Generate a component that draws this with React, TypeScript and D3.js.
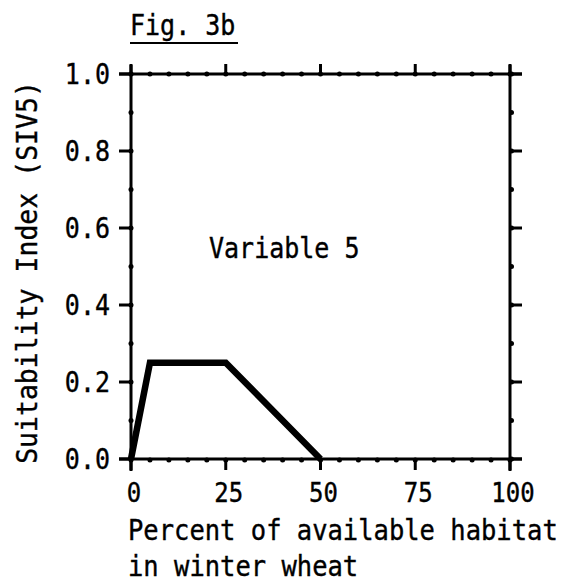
import React from "react";
import * as d3 from "d3";

const titleText = "Fig. 3b";
const panelLabel = "Variable 5";
const yAxisTitle = "Suitability Index (SIV5)";
const xAxisTitleLines = ["Percent of available habitat", "in winter wheat"];

const xMajorTicks = [0, 25, 50, 75, 100];
const xTickLabels = ["0", "25", "50", "75", "100"];
const yMajorTicks = [0, 0.2, 0.4, 0.6, 0.8, 1.0];
const yTickLabels = ["0.0", "0.2", "0.4", "0.6", "0.8", "1.0"];

const curveX = [0, 5, 25, 50];
const curveY = [0, 0.25, 0.25, 0];

const FONT = "'DejaVu Sans Mono', 'Liberation Mono', monospace";
const ink = "#000";

function Txt(props: {
  x: number;
  y: number;
  size: number;
  anchor?: string;
  rotate?: number;
  children: React.ReactNode;
}) {
  const { x, y, size, anchor = "start", rotate = 0, children } = props;
  return (
    <text
      transform={`translate(${x},${y}) rotate(${rotate}) scale(1,1.1)`}
      textAnchor={anchor}
      fontFamily={FONT}
      fontSize={size}
      fill={ink}
      stroke={ink}
      strokeWidth={0.35}
    >
      {children}
    </text>
  );
}

export default function App() {
  const x = d3.scaleLinear().domain([0, 100]).range([131, 510]);
  const y = d3.scaleLinear().domain([0, 1]).range([459, 74]);
  const xMinor = x.ticks(20);
  const yMinor = y.ticks(10);
  const line = d3
    .line<number>()
    .x((_, i) => x(curveX[i]))
    .y((d) => y(d));
  const left = x(0), right = x(100), top = y(1), bottom = y(0);

  return (
    <svg
      width={570}
      height={582}
      style={{ position: "absolute", left: 0, top: 0, display: "block", background: "#fff" }}
    >
      {/* title */}
      <Txt x={130} y={35} size={25}>{titleText}</Txt>
      <line x1={130} x2={238} y1={43} y2={43} stroke={ink} strokeWidth={2} />

      {/* frame */}
      <line x1={left - 12} x2={right + 12} y1={top} y2={top} stroke={ink} strokeWidth={3} />
      <line x1={left - 12} x2={right + 12} y1={bottom} y2={bottom} stroke={ink} strokeWidth={3} />
      <line x1={left} x2={left} y1={top - 9} y2={bottom + 12} stroke={ink} strokeWidth={3} />
      <line x1={right} x2={right} y1={top - 9} y2={bottom + 12} stroke={ink} strokeWidth={3} />

      {/* minor ticks (dots) */}
      {xMinor.map((v) => (
        <g key={"xm" + v}>
          <circle cx={x(v)} cy={top} r={2.5} fill={ink} />
          <circle cx={x(v)} cy={bottom + 1} r={2.5} fill={ink} />
        </g>
      ))}
      {yMinor.map((v) => (
        <g key={"ym" + v}>
          <circle cx={left} cy={y(v)} r={2.5} fill={ink} />
          <circle cx={right + 1.5} cy={y(v)} r={2.5} fill={ink} />
        </g>
      ))}

      {/* major ticks */}
      {xMajorTicks.map((v) => (
        <g key={"xM" + v}>
          <line x1={x(v)} x2={x(v)} y1={top} y2={top - 10} stroke={ink} strokeWidth={3} />
          <line x1={x(v)} x2={x(v)} y1={bottom} y2={bottom + 11} stroke={ink} strokeWidth={3} />
        </g>
      ))}
      {yMajorTicks.map((v) => (
        <g key={"yM" + v}>
          <line x1={left} x2={left - 12} y1={y(v)} y2={y(v)} stroke={ink} strokeWidth={3} />
          <line x1={right} x2={right + 12} y1={y(v)} y2={y(v)} stroke={ink} strokeWidth={3} />
        </g>
      ))}

      {/* tick labels */}
      {xMajorTicks.map((v, i) => (
        <Txt key={"xl" + v} x={x(v) + 3} y={502} size={24} anchor="middle">
          {xTickLabels[i]}
        </Txt>
      ))}
      {yMajorTicks.map((v, i) => (
        <Txt key={"yl" + v} x={110} y={y(v) + 10} size={25} anchor="end">
          {yTickLabels[i]}
        </Txt>
      ))}

      {/* axis titles */}
      <Txt x={37} y={(80 + 465) / 2} size={26.5} anchor="middle" rotate={-90}>
        {yAxisTitle}
      </Txt>
      {xAxisTitleLines.map((t, i) => (
        <Txt key={"xt" + i} x={128} y={540 + i * 36} size={25.5}>
          {t}
        </Txt>
      ))}

      {/* panel label */}
      <Txt x={209} y={258} size={25}>{panelLabel}</Txt>

      {/* curve */}
      <path d={line(curveY) || ""} fill="none" stroke={ink} strokeWidth={6.5} strokeLinejoin="miter" />
    </svg>
  );
}
